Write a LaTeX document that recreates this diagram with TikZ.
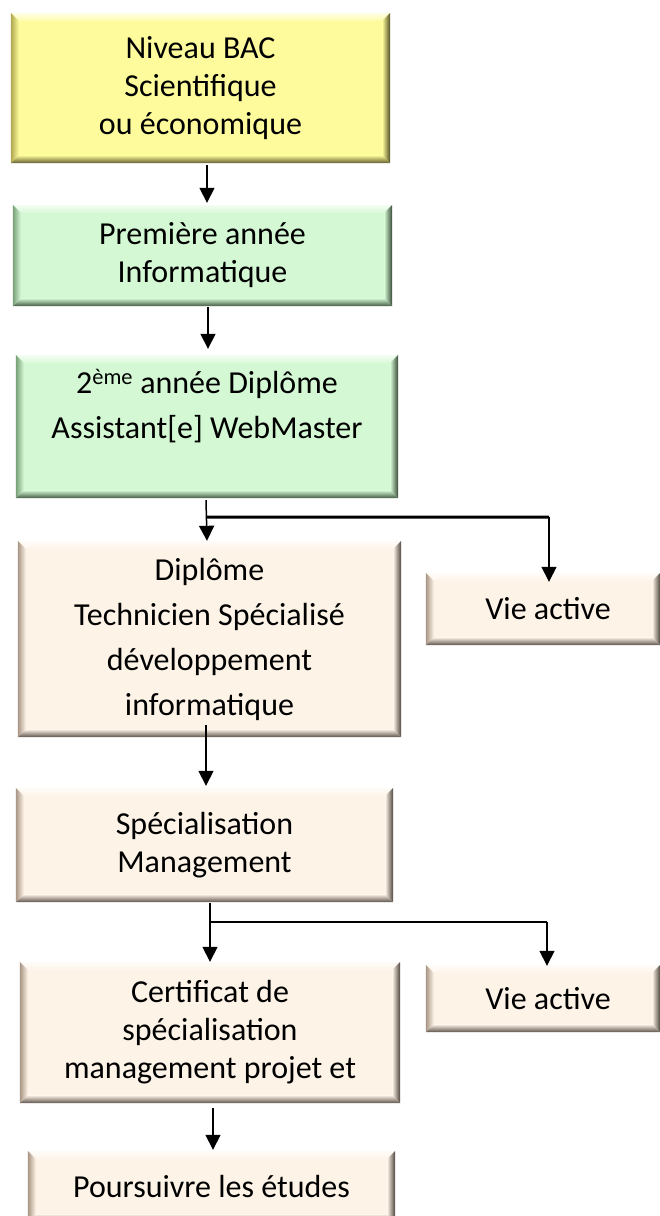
\documentclass[tikz,border=0pt]{standalone}
\usepackage{fontspec}
\setmainfont{Carlito}
\usetikzlibrary{arrows.meta,calc}
\definecolor{yel}{HTML}{FDFB9B}
\definecolor{yeld}{HTML}{B0A850}
\definecolor{grn}{HTML}{D3F8D3}
\definecolor{grnd}{HTML}{78A078}
\definecolor{bei}{HTML}{FDF3E7}
\definecolor{beid}{HTML}{A89585}
\newcommand\bevel[3]{%
  \coordinate (tl) at (#1.north west);
  \coordinate (tr) at (#1.north east);
  \coordinate (bl) at (#1.south west);
  \coordinate (br) at (#1.south east);
  \shade[top color=#2!25!white, bottom color=#2!85!white] (tl) -- (tr) -- ($(tr)+(-8,8)$) -- ($(tl)+(8,8)$) -- cycle;
  \shade[left color=#3, right color=#2] (tl) -- ($(tl)+(8,8)$) -- ($(bl)+(8,-8)$) -- (bl) -- cycle;
  \shade[left color=#2, right color=#3!45!black] (tr) -- (br) -- ($(br)+(-8,-8)$) -- ($(tr)+(-8,8)$) -- cycle;
  \shade[top color=#2, bottom color=#3!55!black] (bl) -- (br) -- ($(br)+(-8,-8)$) -- ($(bl)+(8,-8)$) -- cycle;
}
\tikzset{
  box/.style={inner sep=0pt, align=center, text=black, font=\fontsize{32}{38}\selectfont},
  wide/.style={font=\fontsize{32}{45}\selectfont},
  arr/.style={line width=1.5pt, -{Triangle[width=15pt,length=15pt]}},
  ln/.style={line width=1.5pt},
  thick line/.style={line width=3pt}
}
\begin{document}
\begin{tikzpicture}[x=1pt,y=-1pt]
\useasboundingbox (0,0) rectangle (660,1216);

\node[box, fill=yel, minimum width=379pt, minimum height=150pt] (n1) at (200.5,88) {Niveau BAC\\Scientifique\\ou économique};
\node[box, fill=grn, minimum width=379pt, minimum height=101pt] (n2) at (202.5,255.5) {Première année\\Informatique};
\node[box, wide, fill=grn, minimum width=382pt, minimum height=143pt] (n3) at (207,426.5) {2\textsuperscript{ème} année Diplôme\\Assistant[e] WebMaster\\\mbox{}};
\node[box, wide, fill=bei, minimum width=383pt, minimum height=196pt] (n4) at (209.5,639) {Diplôme\\Technicien Spécialisé\\développement\\informatique};
\node[box, fill=bei, minimum width=234pt, minimum height=72pt] (v1) at (543,609) {\hspace*{10pt}Vie active};
\node[box, fill=bei, minimum width=377pt, minimum height=114pt] (n5) at (204.5,845) {Spécialisation\\Management};
\node[box, fill=bei, minimum width=380pt, minimum height=141pt] (n6) at (210,1032.5) {Certificat de\\spécialisation\\management projet et};
\node[box, fill=bei, minimum width=234pt, minimum height=67pt] (v2) at (543,998.5) {\hspace*{10pt}Vie active};
\node[box, fill=bei, minimum width=367pt, minimum height=71pt] (n7) at (211.5,1186.5) {Poursuivre les études};

\foreach \n/\c/\e in {n1/yel/yeld, n2/grn/grnd, n3/grn/grnd, n4/bei/beid, v1/bei/beid, n5/bei/beid, n6/bei/beid, v2/bei/beid, n7/bei/beid}
  {\bevel{\n}{\c}{\e}}

% connectors
\draw[arr] ([xshift=6.5pt,yshift=-2pt]n1.south) -- ([xshift=4.5pt,yshift=2pt]n2.north);
\draw[arr] ([xshift=5.5pt,yshift=-1pt]n2.south) -- ([xshift=1pt,yshift=6pt]n3.north);

\coordinate (j1) at ($(n3.south)+(-1,19)$);
\coordinate (j1r) at (549,517);
\draw[arr] ([xshift=-1pt,yshift=-2pt]n3.south) -- (n3.south |- n4.north);
\draw[thick line] (j1) -- (j1r);
\draw[arr] (j1r) -- ([yshift=-9pt]v1.north -| j1r);

\draw[arr] ([xshift=-3.5pt,yshift=12pt]n4.south) -- ([xshift=1.5pt,yshift=2pt]n5.north);

\coordinate (j2) at (210,922);
\coordinate (j2r) at (547,922);
\draw[arr] ([xshift=5.5pt,yshift=-1pt]n5.south) -- ([xshift=5.5pt,yshift=0pt]n5.south |- n6.north);
\draw[ln, line width=2pt] (j2) -- (j2r);
\draw[arr] (j2r) -- ([yshift=-1pt]v2.north -| j2r);

\draw[arr] ([xshift=3pt,yshift=-5pt]n6.south) -- ([xshift=1.5pt,yshift=1pt]n7.north);
\end{tikzpicture}
\end{document}
